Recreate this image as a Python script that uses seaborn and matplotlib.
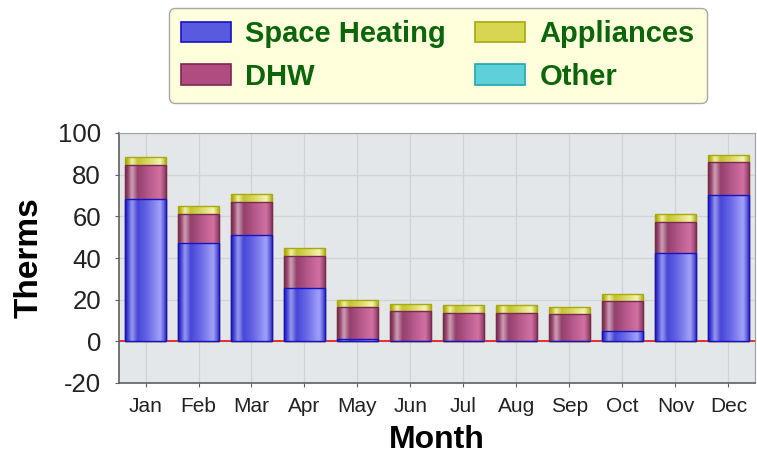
import numpy as np
import pandas as pd
import matplotlib
matplotlib.use("Agg")
import matplotlib.pyplot as plt
import seaborn as sns
from matplotlib.colors import LinearSegmentedColormap
from matplotlib.patches import Patch
from matplotlib.lines import Line2D

# --- datos ---
meses = ["Jan", "Feb", "Mar", "Apr", "May", "Jun",
         "Jul", "Aug", "Sep", "Oct", "Nov", "Dec"]
space_heating = [68.5, 47.0, 51.1, 25.8, 1.2, 0.0, 0.0, 0.0, 0.0, 4.9, 42.6, 70.2]
dhw = [16.3, 14.0, 15.7, 15.2, 15.3, 14.4, 13.8, 13.8, 13.1, 14.4, 14.6, 15.7]
appliances = [3.7, 3.8, 3.9, 3.7, 3.5, 3.5, 3.6, 3.6, 3.5, 3.5, 3.7, 3.7]
other = [0.0] * 12

series = ["Space Heating", "DHW", "Appliances", "Other"]
colores = {"Space Heating": "#5a5ae0", "DHW": "#b04c80",
           "Appliances": "#d6d650", "Other": "#5ed0d8"}
bordes = {"Space Heating": "#1414c0", "DHW": "#7a2a52",
          "Appliances": "#a8a810", "Other": "#20a8b0"}
gradientes = {
    "Space Heating": ["#1c1cc0", "#4040d8", "#9a9aee", "#4646d8", "#6a6ae6", "#a2a2fa", "#2a2ac4"],
    "DHW": ["#74305a", "#904066", "#d0a0b6", "#94406c", "#b4578a", "#d272a2", "#80345c"],
    "Appliances": ["#a0a000", "#bcbc18", "#f0f0b0", "#c4c430", "#d8d860", "#f4f4b0", "#aaaa08"],
}
pos_grad = [0.0, 0.06, 0.16, 0.3, 0.55, 0.85, 1.0]

df = pd.DataFrame({"Month": meses, "Space Heating": space_heating, "DHW": dhw,
                   "Appliances": appliances, "Other": other})
df["sh_dhw"] = df["Space Heating"] + df["DHW"]
df["total"] = df["sh_dhw"] + df["Appliances"] + df["Other"]

sns.set_style("white")
plt.rcParams["font.family"] = ["Liberation Sans", "DejaVu Sans"]
plt.rcParams["axes.unicode_minus"] = False

fig = plt.figure(figsize=(7.57, 4.55), dpi=100)
ax = fig.add_axes([119 / 757, 1 - 383 / 455, 636 / 757, 250 / 455])
ax.set_facecolor("#e4e7ea")

# barras apiladas: total, luego SH+DHW, luego SH encima
capas = [("total", "Appliances"), ("sh_dhw", "DHW"), ("Space Heating", "Space Heating")]
for k, (col, nombre) in enumerate(capas):
    sns.barplot(data=df, x="Month", y=col, color=colores[nombre], width=0.79,
                edgecolor=bordes[nombre], linewidth=1.0, saturation=1, ax=ax)
    cmap = LinearSegmentedColormap.from_list(nombre, list(zip(pos_grad, gradientes[nombre])))
    grad = np.linspace(0, 1, 64).reshape(1, -1)
    for rect in ax.containers[-1]:
        rect.set_zorder(3.5 + 2 * k)
        rect.set_facecolor("none")
        x0, y0 = rect.get_x(), rect.get_y()
        w, h = rect.get_width(), rect.get_height()
        if h <= 0:
            continue
        im = ax.imshow(grad, cmap=cmap, aspect="auto", extent=(x0, x0 + w, y0, y0 + h),
                       zorder=3 + 2 * k, interpolation="bicubic")
        im.set_clip_path(rect)

ax.set_xlim(-0.5, 11.5)
ax.set_ylim(-20, 100)
ax.set_yticks(range(-20, 101, 20))
ax.axhline(0, color="#e82020", lw=1.3, zorder=2)
ax.grid(True, color="#d2d3d6", lw=1.0, zorder=0)
ax.set_axisbelow(True)

for lado in ["top", "right"]:
    ax.spines[lado].set_color("#a0a0a0")
for lado in ["left", "bottom"]:
    ax.spines[lado].set_color("#606060")
    ax.spines[lado].set_linewidth(1.2)

ax.tick_params(axis="y", labelsize=18.5, colors="#606060", labelcolor="#222222",
               length=3, pad=10, left=True)
ax.tick_params(axis="x", labelsize=15, colors="#606060", labelcolor="#222222",
               length=3, pad=7, bottom=True)

ax.set_xlabel("Month", fontsize=23, fontweight="bold", color="black")
ax.set_ylabel("Therms", fontsize=24, fontweight="bold", color="black")
ax.yaxis.set_label_coords(-0.117, 0.5)
ax.xaxis.set_label_coords(0.5, -0.168)

# leyenda
manejadores = [Patch(facecolor=colores[s], edgecolor=bordes[s], linewidth=1.2) for s in series]
ley = fig.legend(manejadores, series,
                 ncol=2, loc="center", bbox_to_anchor=(438 / 757, 1 - 55.5 / 455),
                 frameon=True, fancybox=True, facecolor="#ffffdc", edgecolor="#a8a8a8",
                 framealpha=1, prop={"size": 21, "weight": "bold"},
                 handlelength=1.7, handleheight=0.7, handletextpad=0.5,
                 columnspacing=1.0, labelspacing=0.5, borderpad=0.42, borderaxespad=0)
for t in ley.get_texts():
    t.set_color("#0b650b")
fig.add_artist(Line2D([461 / 757, 461 / 757], [1 - 10 / 455, 1 - 101 / 455],
                      color="#e2e2c0", lw=1.2))

fig.savefig("out.png", dpi=100)
